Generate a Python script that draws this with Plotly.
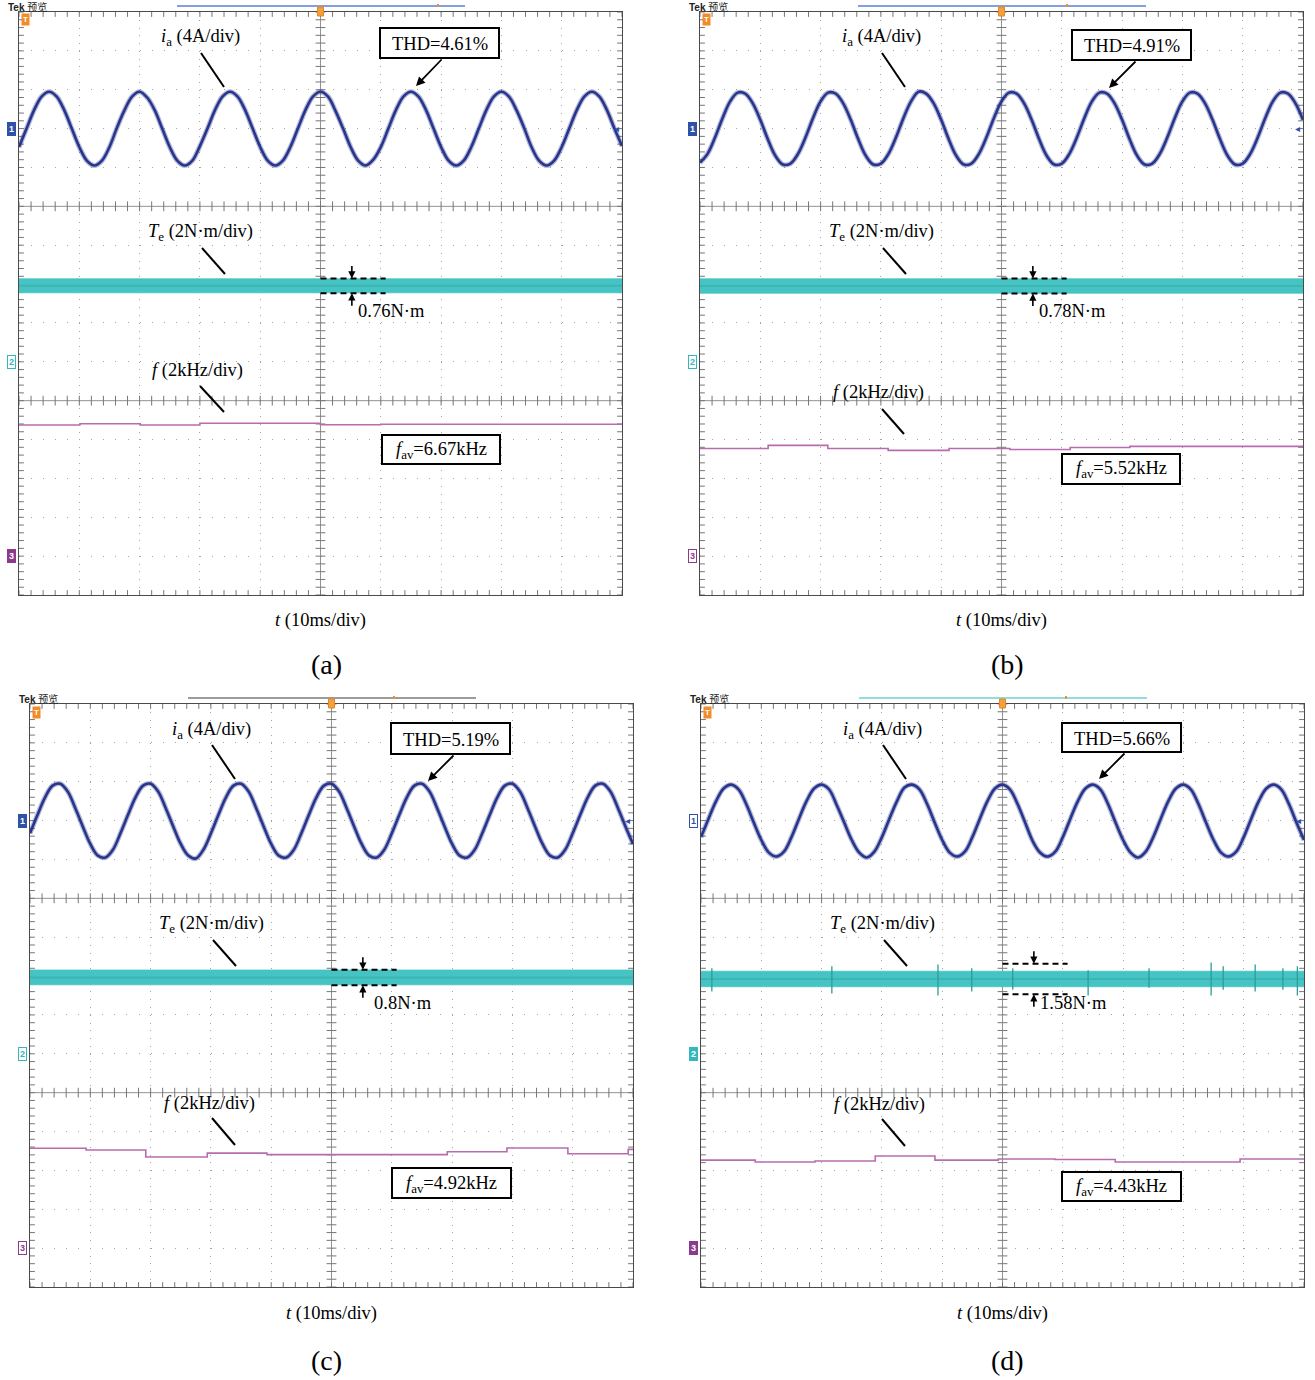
import numpy as np
import plotly.graph_objects as go

W, H = 1315, 1380

# ---------------- data (read from the oscilloscope captures) ----------------
panel_names = ["(a)", "(b)", "(c)", "(d)"]
thd_text = ["THD=4.61%", "THD=4.91%", "THD=5.19%", "THD=5.66%"]
f_avg_text = ["6.67kHz", "5.52kHz", "4.92kHz", "4.43kHz"]
te_ripple_text = ["0.76N·m", "0.78N·m", "0.8N·m", "1.58N·m"]
te_ripple = [0.76, 0.78, 0.80, 1.58]        # N·m, peak-to-peak marked by dashes
te_mean = [3.91, 3.90, 3.93, 3.85]          # N·m
te_band = [0.72, 0.74, 0.76, 0.80]          # N·m, visible noise band

# phase current i_a (A), sampled every 1.25 ms over 100 ms
t_cur = np.linspace(0, 100, 81)
ia_a = [-1.9, 0.0, 1.9, 3.3, 3.8, 3.3, 1.9, 0.0, -1.9, -3.3, -3.8, -3.3,
        -1.9, 0.1, 1.9, 3.3, 3.8, 3.2, 1.9, 0.0, -1.9, -3.3, -3.8, -3.3,
        -1.8, 0.0, 1.9, 3.3, 3.8, 3.3, 1.9, 0.0, -1.9, -3.3, -3.8, -3.3,
        -1.9, 0.0, 1.9, 3.3, 3.8, 3.3, 1.8, 0.0, -1.9, -3.3, -3.8, -3.2,
        -1.9, 0.0, 1.9, 3.3, 3.8, 3.3, 1.9, 0.0, -1.9, -3.3, -3.8, -3.3,
        -1.9, 0.0, 1.9, 3.3, 3.8, 3.3, 1.9, 0.1, -1.9, -3.3, -3.8, -3.3,
        -1.9, 0.0, 1.9, 3.3, 3.8, 3.3, 1.9, 0.0, -1.8]
ia_b = [-3.5, -2.6, -0.9, 1.1, 2.8, 3.7, 3.6, 2.6, 0.9, -1.1, -2.8, -3.7,
        -3.6, -2.6, -0.9, 1.1, 2.8, 3.7, 3.6, 2.6, 0.9, -1.1, -2.8, -3.7,
        -3.6, -2.6, -0.9, 1.1, 2.8, 3.8, 3.6, 2.6, 0.9, -1.1, -2.8, -3.7,
        -3.6, -2.6, -0.9, 1.1, 2.8, 3.7, 3.6, 2.6, 0.9, -1.1, -2.8, -3.7,
        -3.6, -2.6, -0.9, 1.1, 2.8, 3.7, 3.6, 2.6, 0.9, -1.1, -2.8, -3.7,
        -3.6, -2.6, -0.9, 1.1, 2.8, 3.7, 3.6, 2.6, 0.9, -1.1, -2.8, -3.7,
        -3.6, -2.6, -0.9, 1.1, 2.8, 3.7, 3.6, 2.6, 0.9]
ia_c = [-1.3, 0.6, 2.4, 3.6, 3.8, 3.0, 1.3, -0.6, -2.4, -3.6, -3.8, -3.0,
        -1.3, 0.6, 2.4, 3.6, 3.8, 3.0, 1.3, -0.6, -2.4, -3.6, -3.9, -3.0,
        -1.3, 0.6, 2.4, 3.6, 3.8, 3.0, 1.3, -0.6, -2.4, -3.6, -3.8, -3.0,
        -1.3, 0.6, 2.4, 3.6, 3.8, 3.0, 1.3, -0.6, -2.4, -3.6, -3.8, -3.0,
        -1.3, 0.6, 2.4, 3.6, 3.8, 3.0, 1.3, -0.6, -2.4, -3.6, -3.8, -3.0,
        -1.3, 0.6, 2.4, 3.6, 3.8, 3.0, 1.3, -0.6, -2.4, -3.6, -3.8, -3.0,
        -1.3, 0.6, 2.4, 3.6, 3.8, 3.0, 1.3, -0.6, -2.4]
ia_d = [-1.7, 0.2, 2.0, 3.3, 3.7, 3.2, 1.7, -0.2, -2.0, -3.3, -3.7, -3.2,
        -1.7, 0.2, 2.0, 3.3, 3.7, 3.2, 1.6, -0.2, -2.0, -3.3, -3.8, -3.2,
        -1.7, 0.2, 2.0, 3.4, 3.7, 3.2, 1.7, -0.2, -2.0, -3.3, -3.7, -3.2,
        -1.7, 0.2, 2.0, 3.3, 3.7, 3.2, 1.7, -0.2, -2.1, -3.3, -3.7, -3.2,
        -1.7, 0.2, 2.0, 3.3, 3.7, 3.2, 1.7, -0.2, -2.0, -3.3, -3.8, -3.2,
        -1.7, 0.2, 2.0, 3.3, 3.7, 3.2, 1.7, -0.2, -2.0, -3.3, -3.7, -3.2,
        -1.7, 0.2, 2.0, 3.3, 3.7, 3.2, 1.7, -0.2, -2.0]
ia_all = [ia_a, ia_b, ia_c, ia_d]

# switching frequency f (kHz): step start times (ms) and levels
fa_t = [0, 10.1, 20.1, 30.0, 50.0, 60.0]
fa_v = [6.75, 6.81, 6.75, 6.84, 6.76, 6.79]
fb_t = [0, 11.3, 21.2, 31.2, 41.3, 51.4, 61.4, 71.3, 81.3]
fb_v = [5.54, 5.70, 5.54, 5.44, 5.54, 5.49, 5.59, 5.65, 5.65]
fc_t = [0, 9.3, 19.2, 29.4, 39.3, 69.2, 79.1, 89.2, 99.2]
fc_v = [5.14, 5.05, 4.69, 4.89, 4.81, 4.96, 5.15, 4.86, 5.08]
fd_t = [0, 9.0, 18.9, 28.9, 38.8, 49.3, 58.7, 68.7, 78.6, 89.4]
fd_v = [4.53, 4.43, 4.48, 4.74, 4.53, 4.59, 4.56, 4.43, 4.43, 4.59]
f_t_all = [fa_t, fb_t, fc_t, fd_t]
f_v_all = [fa_v, fb_v, fc_v, fd_v]

# torque spikes in panel (d): time (ms), max and min (N·m)
spk_t = [1.8, 21.7, 39.3, 44.9, 51.7, 64.2, 74.3, 84.6, 86.6, 91.9, 96.5, 98.9]
spk_hi = [4.4, 4.5, 4.6, 4.4, 4.4, 4.3, 4.4, 4.7, 4.5, 4.6, 4.4, 4.5]
spk_lo = [3.2, 3.1, 3.0, 3.2, 3.3, 3.0, 3.4, 3.0, 3.3, 3.2, 3.3, 3.0]

# ---------------- layout geometry (pixels) ----------------
PW, PH = 603, 583
panel_org = [(19, 12), (700, 12), (30, 704), (701, 704)]
thd_box = [(361, 16, 480, 46), (372, 18, 491, 48), (361, 19, 480, 50), (361, 19, 480, 48)]
thd_arrow = [((424, 46), (397, 74)), ((437, 48), (409, 76)), ((425, 50), (398, 77)), ((425, 48), (398, 75))]
f_lbl = [(178, 357), (178.5, 379), (179, 398), (178, 399)]
f_lead = [((181, 374), (205, 400)), ((182, 397), (204, 422)), ((182, 414), (205, 441)), ((181, 415), (204, 442))]
fav_box = [(363, 423, 481, 452), (362, 442, 480, 472), (362, 464, 481, 494), (361, 468, 480, 497)]
caption_xy = [(326, 664), (1007, 664), (326, 1360), (1007, 1360)]
head_line_col = ["#5b7fd0", "#5b7fd0", "#7a7a7a", "#6fd0d6"]
head_mark = [419, 367, 364, 365]
ch_fill = [(True, False, True), (True, False, False), (True, False, False), (False, True, True)]

C_CUR = "#28358c"
C_TE = "#46c3c3"
C_F = "#b86cae"
C_CH = ["#2f52a6", "#34b8bf", "#8b3a8e"]
SERIF = "Liberation Serif, Times New Roman, serif"
FS = 18.5


def P(x, y):
    return x / W, 1 - y / H


fig = go.Figure()
shapes = []
annos = []
layout_axes = {}

for p in range(4):
    L, T = panel_org[p]
    xa = "x" if p == 0 else f"x{p+1}"
    base = 4 * p + 1
    yr = "y" if base == 1 else f"y{base}"
    yc, yt, yf = f"y{base+1}", f"y{base+2}", f"y{base+3}"
    xkey = "xaxis" if p == 0 else f"xaxis{p+1}"
    rkey = "yaxis" if base == 1 else f"yaxis{base}"

    layout_axes[xkey] = dict(domain=[L / W, (L + PW) / W], range=[0, 100], anchor=yr,
                             showgrid=True, gridcolor="#a4a4a4", griddash="1px,6.77px", gridwidth=1,
                             tick0=0, dtick=10, showticklabels=False, ticks="",
                             showline=True, mirror=True, linecolor="#4a4a4a", linewidth=1.3,
                             zeroline=False, fixedrange=True)
    layout_axes[rkey] = dict(domain=[1 - (T + PH) / H, 1 - T / H], range=[0, 15], anchor=xa,
                             showgrid=True, gridcolor="#a4a4a4", griddash="1px,11.06px", gridwidth=1,
                             tick0=0, dtick=1, showticklabels=False, ticks="",
                             showline=True, mirror=True, linecolor="#4a4a4a", linewidth=1.3,
                             zeroline=False, fixedrange=True)
    # channel scales: 4 A/div, 2 N·m/div, 2 kHz/div ; zero at rows 12, 6, 1
    layout_axes[f"yaxis{base+1}"] = dict(overlaying=yr, anchor=xa, range=[-48, 12], visible=False, fixedrange=True)
    layout_axes[f"yaxis{base+2}"] = dict(overlaying=yr, anchor=xa, range=[-12, 18], visible=False, fixedrange=True)
    layout_axes[f"yaxis{base+3}"] = dict(overlaying=yr, anchor=xa, range=[-2, 28], visible=False, fixedrange=True)

    # graticule minor ticks
    tx = np.arange(0, 100.01, 2.0)
    ty = np.arange(0, 15.001, 0.2)
    gx = np.concatenate([tx] * 4)
    gy = np.repeat([0, 5, 10, 15], len(tx))
    fig.add_trace(go.Scatter(x=gx, y=gy, xaxis=xa, yaxis=yr, mode="markers", hoverinfo="skip",
                             marker=dict(symbol="line-ns", size=7, line=dict(width=1, color="#767676"))))
    vx = np.repeat([0, 50, 100], len(ty))
    vy = np.concatenate([ty] * 3)
    fig.add_trace(go.Scatter(x=vx, y=vy, xaxis=xa, yaxis=yr, mode="markers", hoverinfo="skip",
                             marker=dict(symbol="line-ew", size=7, line=dict(width=1, color="#767676"))))
    for rv in (5, 10):
        shapes.append(dict(type="line", xref=xa, yref=yr, x0=0, x1=100, y0=rv, y1=rv,
                           line=dict(color="#929292", width=1), layer="below"))
    shapes.append(dict(type="line", xref=xa, yref=yr, x0=50, x1=50, y0=0, y1=15,
                       line=dict(color="#929292", width=1), layer="below"))

    # torque band
    m, b = te_mean[p], te_band[p]
    fig.add_trace(go.Scatter(x=[0, 100], y=[m - b / 2, m - b / 2], xaxis=xa, yaxis=yt, mode="lines",
                             line=dict(width=0.8, color=C_TE), hoverinfo="skip"))
    fig.add_trace(go.Scatter(x=[0, 100], y=[m + b / 2, m + b / 2], xaxis=xa, yaxis=yt, mode="lines",
                             line=dict(width=0.8, color=C_TE), fill="tonexty", fillcolor=C_TE, hoverinfo="skip"))
    fig.add_trace(go.Scatter(x=[0, 100], y=[m, m], xaxis=xa, yaxis=yt, mode="lines",
                             line=dict(width=2, color="#34a9a9"), opacity=0.5, hoverinfo="skip"))
    if p == 3:
        sx, sy = [], []
        for t, hi, lo in zip(spk_t, spk_hi, spk_lo):
            sx += [t, t, None]
            sy += [lo, hi, None]
        fig.add_trace(go.Scatter(x=sx, y=sy, xaxis=xa, yaxis=yt, mode="lines",
                                 line=dict(width=1.3, color="#2a9d9d"), hoverinfo="skip"))

    # current (faint fuzz underlay + trace)
    fig.add_trace(go.Scatter(x=t_cur, y=ia_all[p], xaxis=xa, yaxis=yc, mode="lines", opacity=0.35,
                             line=dict(width=5, color=C_CUR, shape="spline", smoothing=1.0), hoverinfo="skip"))
    fig.add_trace(go.Scatter(x=t_cur, y=ia_all[p], xaxis=xa, yaxis=yc, mode="lines",
                             line=dict(width=2.6, color=C_CUR, shape="spline", smoothing=1.0), hoverinfo="skip"))
    # frequency
    ft = list(f_t_all[p]) + [100]
    fv = list(f_v_all[p]) + [f_v_all[p][-1]]
    fig.add_trace(go.Scatter(x=ft, y=fv, xaxis=xa, yaxis=yf, mode="lines",
                             line=dict(width=1.6, color=C_F, shape="hv"), hoverinfo="skip"))

    # torque ripple dimension marks
    up, lo = m + te_ripple[p] / 2, m - te_ripple[p] / 2
    for yv in (up, lo):
        shapes.append(dict(type="line", xref=xa, yref=yt, x0=50, x1=60.8, y0=yv, y1=yv,
                           line=dict(color="black", width=2, dash="6px,4px")))
    annos.append(dict(xref=xa, yref=yt, x=55.2, y=up, ax=0, ay=-14, text="", showarrow=True,
                      arrowhead=2, arrowsize=0.9, arrowwidth=1.6, arrowcolor="black", standoff=0))
    annos.append(dict(xref=xa, yref=yt, x=55.2, y=lo, ax=0, ay=14, text="", showarrow=True,
                      arrowhead=2, arrowsize=0.9, arrowwidth=1.6, arrowcolor="black", standoff=0))
    tx0, ty0 = P(L + 337 + (5 if p == 2 else 0), T + 299)
    annos.append(dict(xref="paper", yref="paper", x=tx0, y=ty0, xanchor="left", yanchor="middle",
                      text=te_ripple_text[p], showarrow=False, font=dict(family=SERIF, size=FS, color="black")))

    # labels with leader lines
    def label(xc, yc_, txt):
        x, y = P(L + xc, T + yc_)
        annos.append(dict(xref="paper", yref="paper", x=x, y=y, xanchor="center", yanchor="middle",
                          text=txt, showarrow=False, font=dict(family=SERIF, size=FS, color="black")))

    def lead(a, bpt):
        x0, y0 = P(L + a[0], T + a[1])
        x1, y1 = P(L + bpt[0], T + bpt[1])
        shapes.append(dict(type="line", xref="paper", yref="paper", x0=x0, y0=y0, x1=x1, y1=y1,
                           line=dict(color="black", width=2)))

    label(181, 26, "<i>i</i><sub>a</sub> (4A/div)")
    lead((182, 41), (205, 75))
    label(181.5, 220, "<i>T</i><sub>e</sub> (2N·m/div)")
    lead((183, 236), (206, 262))
    label(f_lbl[p][0], f_lbl[p][1] + 1, "<i>f</i> (2kHz/div)")
    lead(*f_lead[p])

    # THD box + arrow
    bx0, by0, bx1, by1 = thd_box[p]
    x0, y0 = P(L + bx0, T + by0)
    x1, y1 = P(L + bx1, T + by1)
    shapes.append(dict(type="rect", xref="paper", yref="paper", x0=x0, y0=y1, x1=x1, y1=y0,
                       line=dict(color="black", width=2), fillcolor="white"))
    label((bx0 + bx1) / 2, (by0 + by1) / 2 + 1, thd_text[p])
    (tlx, tly), (hdx, hdy) = thd_arrow[p]
    hx, hy = P(L + hdx, T + hdy)
    annos.append(dict(xref="paper", yref="paper", x=hx, y=hy, ax=tlx - hdx, ay=tly - hdy, text="",
                      showarrow=True, arrowhead=2, arrowsize=1, arrowwidth=1.8, arrowcolor="black", standoff=0))

    # f_av box
    bx0, by0, bx1, by1 = fav_box[p]
    x0, y0 = P(L + bx0, T + by0)
    x1, y1 = P(L + bx1, T + by1)
    shapes.append(dict(type="rect", xref="paper", yref="paper", x0=x0, y0=y1, x1=x1, y1=y0,
                       line=dict(color="black", width=2), fillcolor="white"))
    label((bx0 + bx1) / 2, (by0 + by1) / 2 + 1, "<i>f</i><sub>av</sub>=" + f_avg_text[p])

    # axis caption and panel letter
    x, y = P(L + PW / 2, T + PH + 26)
    annos.append(dict(xref="paper", yref="paper", x=x, y=y, xanchor="center", yanchor="middle",
                      text="<i>t</i> (10ms/div)", showarrow=False, font=dict(family=SERIF, size=FS, color="black")))
    x, y = P(*caption_xy[p])
    annos.append(dict(xref="paper", yref="paper", x=x, y=y, xanchor="center", yanchor="middle",
                      text=panel_names[p], showarrow=False, font=dict(family=SERIF, size=28, color="black")))

    # oscilloscope header
    x, y = P(L - 13, T - 5)
    annos.append(dict(xref="paper", yref="paper", x=x, y=y, xanchor="left", yanchor="middle",
                      text="<b>Tek</b> 预览", showarrow=False,
                      font=dict(family="Liberation Sans, Noto Sans CJK SC, sans-serif", size=10, color="#222")))
    x0, y0 = P(L + 158, T - 6)
    x1, _ = P(L + 446, T - 6)
    shapes.append(dict(type="line", xref="paper", yref="paper", x0=x0, x1=x1, y0=y0, y1=y0,
                       line=dict(color=head_line_col[p], width=1.3)))
    x0, y0 = P(L + head_mark[p], T - 8)
    _, y1 = P(L + head_mark[p], T - 5)
    shapes.append(dict(type="line", xref="paper", yref="paper", x0=x0, x1=x0, y0=y0, y1=y1,
                       line=dict(color="#f0902a", width=2)))
    # trigger position marker
    x0, y0 = P(L + PW / 2 - 3, T - 5)
    x1, y1 = P(L + PW / 2 + 3, T + 4)
    shapes.append(dict(type="rect", xref="paper", yref="paper", x0=x0, x1=x1, y0=y1, y1=y0,
                       line=dict(color="#e8861e", width=1), fillcolor="#f5a040"))
    x, y = P(L + 6, T + 8)
    annos.append(dict(xref="paper", yref="paper", x=x, y=y, xanchor="center", yanchor="middle",
                      text="<b>T</b>", showarrow=False, bgcolor="#f28c28", borderpad=1,
                      font=dict(family="Liberation Sans, sans-serif", size=8, color="white")))
    # channel markers
    for ci, row in enumerate((12, 6, 1)):
        filled = ch_fill[p][ci]
        x, _ = P(L - 8, 0)
        annos.append(dict(xref="paper", yref=yr, x=x, y=row, xanchor="center", yanchor="middle",
                          text=f"<b>{ci+1}</b>", showarrow=False,
                          bgcolor=C_CH[ci] if filled else "white", bordercolor=C_CH[ci], borderwidth=1, borderpad=1,
                          font=dict(family="Liberation Sans, sans-serif", size=9,
                                    color="white" if filled else C_CH[ci])))
    x, _ = P(L + PW - 1, 0)
    annos.append(dict(xref="paper", yref=yr, x=x, y=12, xanchor="right", yanchor="middle",
                      text="◂", showarrow=False, font=dict(family="DejaVu Sans", size=10, color=C_CH[0])))

fig.update_layout(width=W, height=H, margin=dict(l=0, r=0, t=0, b=0),
                  paper_bgcolor="white", plot_bgcolor="white", showlegend=False,
                  shapes=shapes, annotations=annos, **layout_axes)
fig.write_html("out.html", config={"displayModeBar": False},
               post_script="document.body.style.margin='0px';document.body.style.overflow='hidden';")
